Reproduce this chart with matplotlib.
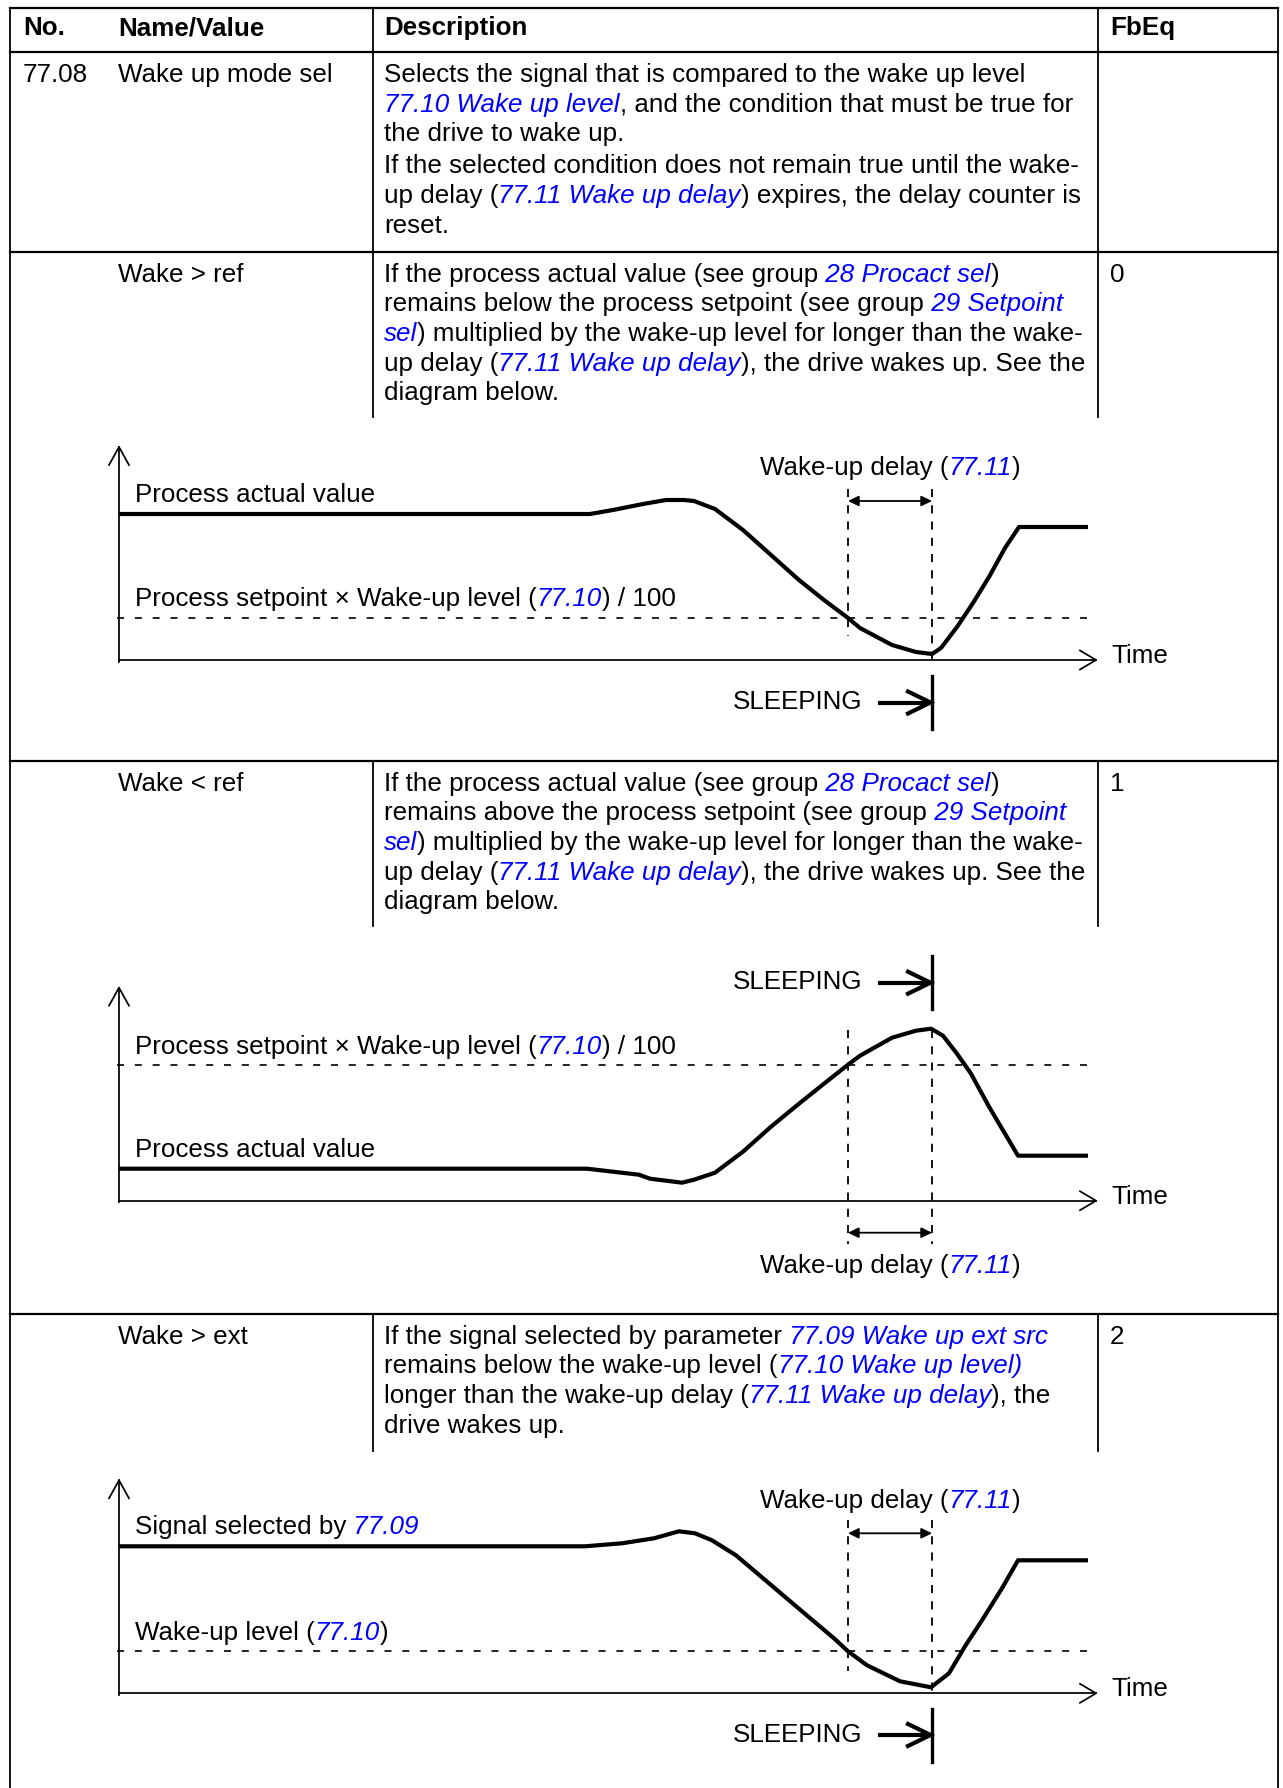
import matplotlib
matplotlib.use('Agg')
import matplotlib.pyplot as plt

plt.rcParams['font.family'] = ['Liberation Sans', 'DejaVu Sans']

W, H = 1283, 1788
FS = 18.7
BLUE = '#0000ff'
STYLES = {'n': dict(color='black'),
          'l': dict(color=BLUE, style='italic'),
          'b': dict(color='black', weight='bold')}

# ---------------- table content ----------------
header = ['No.', 'Name/Value', 'Description', 'FbEq']
header_x = [23, 118, 384, 1110]

param_no = '77.08'
param_name = 'Wake up mode sel'
param_desc = [
    [('Selects the signal that is compared to the wake up level', 'n')],
    [('77.10 Wake up level', 'l'), (', and the condition that must be true for', 'n')],
    [('the drive to wake up.', 'n')],
    [('If the selected condition does not remain true until the wake-', 'n')],
    [('up delay (', 'n'), ('77.11 Wake up delay', 'l'), (') expires, the delay counter is', 'n')],
    [('reset.', 'n')],
]
param_desc_y = [81.7, 111.7, 141.5, 173, 203, 233]

value_names = ['Wake > ref', 'Wake < ref', 'Wake > ext']
value_fbeq = ['0', '1', '2']
desc_ref = [
    [('If the process actual value (see group', 'n'), (' 28 Procact sel', 'l'), (')', 'n')],
    [('remains below the process setpoint (see group', 'n'), (' 29 Setpoint', 'l')],
    [('sel', 'l'), (') multiplied by the wake-up level for longer than the wake-', 'n')],
    [('up delay (', 'n'), ('77.11 Wake up delay', 'l'), ('), the drive wakes up. See the', 'n')],
    [('diagram below.', 'n')],
]
desc_below = [
    [('If the process actual value (see group', 'n'), (' 28 Procact sel', 'l'), (')', 'n')],
    [('remains above the process setpoint (see group', 'n'), (' 29 Setpoint', 'l')],
    [('sel', 'l'), (') multiplied by the wake-up level for longer than the wake-', 'n')],
    [('up delay (', 'n'), ('77.11 Wake up delay', 'l'), ('), the drive wakes up. See the', 'n')],
    [('diagram below.', 'n')],
]
desc_ext = [
    [('If the signal selected by parameter', 'n'), (' 77.09 Wake up ext src', 'l')],
    [('remains below the wake-up level (', 'n'), ('77.10 Wake up level)', 'l')],
    [('longer than the wake-up delay (', 'n'), ('77.11 Wake up delay', 'l'), ('), the', 'n')],
    [('drive wakes up.', 'n')],
]
value_desc = [desc_ref, desc_below, desc_ext]

# ---------------- diagram data (time, level; level 0 = time axis) ----------------
ref_t = [0, 471, 494, 524, 547, 565, 575, 596, 624, 652, 680, 705, 729, 741, 773, 797, 813,
         822, 838, 854, 870, 886, 900, 969]
ref_v = [146, 146, 150, 156, 160, 160, 159, 151, 130, 105, 80, 60, 42, 32, 15, 8, 6,
         12, 33, 57, 83, 112, 133, 133]
ref_level = 42

below_t = [0, 468, 520, 531, 563, 575, 596, 624, 652, 680, 705, 729, 741, 773, 797, 812,
           824, 838, 852, 870, 886, 899, 969]
below_v = [32, 32, 26, 22, 18, 21, 28, 49, 74, 97, 117, 136, 145, 163, 170, 172,
           165, 147, 127, 94, 67, 45, 45]
below_level = 136

ext_t = [0, 466, 503, 535, 560, 576, 593, 617, 650, 683, 715, 729, 748, 781, 812,
         830, 846, 863, 883, 899, 969]
ext_v = [147, 147, 150, 155, 162, 160, 153, 138, 110, 82, 55, 42, 28, 12, 6,
         20, 47, 73, 105, 133, 133]
ext_level = 42

delay_t = (729, 813)
t_end, v_top = 977, 213

fig = plt.figure(figsize=(W / 100, H / 100), dpi=100)
renderer = fig.canvas.get_renderer()


def rich(ax, x, y, parts, ha='left', size=FS):
    texts = []
    for s, st in parts:
        texts.append(ax.text(x, y, s, fontsize=size, va='baseline', ha='left',
                             clip_on=False, **STYLES[st]))
    widths = [t.get_window_extent(renderer).width for t in texts]
    pos = x - sum(widths) / 2 if ha == 'center' else x
    if ha == 'right':
        pos = x - sum(widths)
    for t, w in zip(texts, widths):
        t.set_x(pos)
        pos += w


# ---------------- table ----------------
page = fig.add_axes([0, 0, 1, 1])
page.set_xlim(0, W)
page.set_ylim(H, 0)
page.axis('off')

left, div1, div2, right = 10, 373, 1098, 1278
hlines = [8, 52, 252, 761, 1314]
lw_h, lw_v = 1.6, 1.3
for y in hlines:
    page.plot([left, right], [y, y], color='black', lw=lw_h, solid_capstyle='projecting')
for x in (left, right):
    page.plot([x, x], [8, H], color='black', lw=lw_v)
for y0, y1 in [(8, 252), (252, 417), (761, 926), (1314, 1451)]:
    for x in (div1, div2):
        page.plot([x, x], [y0, y1], color='black', lw=lw_v)

for s, x in zip(header, header_x):
    page.text(x, 35, s, fontsize=FS, va='baseline', weight='bold')

page.text(header_x[0], param_desc_y[0], param_no, fontsize=FS, va='baseline')
page.text(header_x[1], param_desc_y[0], param_name, fontsize=FS, va='baseline')
for parts, y in zip(param_desc, param_desc_y):
    rich(page, header_x[2], y, parts)

row_tops = [252, 761, 1314]
for top, name, fb, desc in zip(row_tops, value_names, value_fbeq, value_desc):
    y0 = top + 29.8
    page.text(header_x[1], y0, name, fontsize=FS, va='baseline')
    page.text(header_x[3], y0, fb, fontsize=FS, va='baseline')
    for i, parts in enumerate(desc):
        rich(page, header_x[2], y0 + i * 29.6, parts)


# ---------------- diagrams ----------------
def diagram(axis_y, t, v, level, lab_hi, lab_lo, lab_hi_v, lab_lo_v,
            delay_v, delay_text_v, dash_v, sleep_v):
    ax = fig.add_axes([0, 0, 1, 1])
    ax.set_xlim(-119, W - 119)
    ax.set_ylim(axis_y - H, axis_y)
    ax.axis('off')
    ax.patch.set_alpha(0)
    k = dict(color='black', clip_on=False)
    # axes with open arrow heads
    ax.plot([0, 0], [-1.5, v_top], lw=1.25, **k)
    ax.plot([-10, 0, 10], [v_top - 18, v_top, v_top - 18], lw=1.25, **k)
    ax.plot([0, t_end], [0, 0], lw=1.25, **k)
    ax.plot([t_end - 16, t_end, t_end - 16], [9.5, 0, -9.5], lw=1.25, **k)
    ax.text(t_end + 15, -3, 'Time', fontsize=FS, va='baseline', clip_on=False)
    # level line and signal
    ax.plot([-2, 969], [level, level], lw=1.2, ls=(0, (4.2, 6.5)), **k)
    ax.plot(t, v, lw=3.0, solid_joinstyle='round', solid_capstyle='butt', **k)
    rich(ax, 16, lab_hi_v, lab_hi)
    rich(ax, 16, lab_lo_v, lab_lo)
    # delay window
    for x, (a, b) in zip(delay_t, dash_v):
        ax.plot([x, x], [a, b], lw=1.3, ls=(0, (4.5, 4.5)), **k)
    ax.annotate('', xy=(delay_t[1], delay_v), xytext=(delay_t[0], delay_v),
                arrowprops=dict(arrowstyle='<|-|>,head_length=0.45,head_width=0.22',
                                lw=1.3, color='black', mutation_scale=14,
                                shrinkA=0, shrinkB=0), annotation_clip=False)
    rich(ax, sum(delay_t) / 2, delay_text_v,
         [('Wake-up delay (', 'n'), ('77.11', 'l'), (')', 'n')], ha='center')
    # sleeping marker
    ax.plot([delay_t[1], delay_t[1]], [sleep_v - 26.5, sleep_v + 26.5], lw=2.4, **k)
    ax.plot([759, 811], [sleep_v, sleep_v], lw=3.0, solid_capstyle='butt', **k)
    ax.plot([789, 811.5, 789], [sleep_v + 11, sleep_v, sleep_v - 11], lw=3.0,
            solid_joinstyle='miter', **k)
    ax.text(743, sleep_v - 6.5, 'SLEEPING', fontsize=FS, ha='right', va='baseline',
            clip_on=False)


setpoint_label = [('Process setpoint × Wake-up level (', 'n'), ('77.10', 'l'), (') / 100', 'n')]
actual_label = [('Process actual value', 'n')]

diagram(660, ref_t, ref_v, ref_level, actual_label, setpoint_label, 158, 54,
        159, 185, [(171, 24), (171, 0)], -42.5)
diagram(1200.7, below_t, below_v, below_level, setpoint_label, actual_label, 147, 44,
        -32, -72, [(171, -43), (171, -43)], 218)
diagram(1693.3, ext_t, ext_v, ext_level,
        [('Signal selected by', 'n'), (' 77.09', 'l')],
        [('Wake-up level (', 'n'), ('77.10', 'l'), (')', 'n')], 159, 53,
        160, 185, [(173, 22), (173, 0)], -41.7)

fig.savefig('out.png', dpi=100)
